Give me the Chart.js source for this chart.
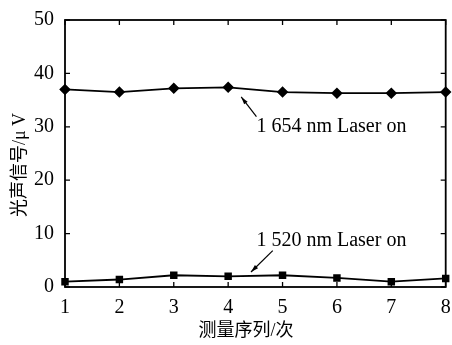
<!DOCTYPE html>
<html>
<head>
<meta charset="utf-8">
<script src="https://cdn.jsdelivr.net/npm/chart.js@4/dist/chart.umd.min.js"></script>
<style>
  html, body { margin: 0; padding: 0; background: #fff; }
  #wrap { width: 452px; height: 345px; }
</style>
</head>
<body>
<div id="wrap"><canvas id="chart" width="452" height="345"></canvas></div>
<script>
// measurement index
const runs = ["1", "2", "3", "4", "5", "6", "7", "8"];
// photoacoustic signal, uV
const laser1654 = [37.0, 36.5, 37.2, 37.4, 36.5, 36.3, 36.3, 36.5];
const laser1520 = [1.0, 1.4, 2.2, 2.0, 2.2, 1.7, 1.0, 1.6];
const yTicks = [0, 10, 20, 30, 40, 50];

const serif = "'Liberation Serif', 'Noto Sans CJK SC', serif";

// box + inward ticks + axis titles + arrow labels
const framePlugin = {
  id: "frame",
  afterDraw(chart) {
    const { ctx, chartArea: a, scales } = chart;
    const x = scales.x, y = scales.y;
    ctx.save();
    ctx.strokeStyle = "#000";
    ctx.lineWidth = 1.8;
    ctx.strokeRect(a.left, a.top, a.right - a.left, a.bottom - a.top);
    ctx.lineWidth = 1.3;
    ctx.beginPath();
    runs.forEach((r, i) => {
      const px = x.getPixelForValue(i);
      ctx.moveTo(px, a.bottom); ctx.lineTo(px, a.bottom - 5);
      ctx.moveTo(px, a.top); ctx.lineTo(px, a.top + 5);
    });
    yTicks.forEach(v => {
      const py = y.getPixelForValue(v);
      ctx.moveTo(a.left, py); ctx.lineTo(a.left + 5, py);
      ctx.moveTo(a.right, py); ctx.lineTo(a.right - 5, py);
    });
    ctx.stroke();

    ctx.fillStyle = "#000";
    ctx.textAlign = "center";
    ctx.textBaseline = "middle";
    ctx.font = "18px " + serif;
    // x axis title
    ctx.fillText("测量序列/次", 246, 331);
    // y axis title
    ctx.save();
    ctx.translate(20, 165);
    ctx.rotate(-Math.PI / 2);
    ctx.fillText("光声信号/μ V", 0, 0);
    ctx.restore();

    // annotations
    ctx.textAlign = "left";
    ctx.font = "20px " + serif;
    ctx.fillText("1 654 nm Laser on", x.getPixelForValue(3.52), y.getPixelForValue(30.0));
    ctx.fillText("1 520 nm Laser on", x.getPixelForValue(3.52), y.getPixelForValue(8.7));

    arrow(ctx, x.getPixelForValue(3.52), y.getPixelForValue(31.9), x.getPixelForValue(3.24), y.getPixelForValue(35.6));
    arrow(ctx, x.getPixelForValue(3.82), y.getPixelForValue(6.8), x.getPixelForValue(3.42), y.getPixelForValue(2.8));
    ctx.restore();
  }
};

function arrow(ctx, x1, y1, x2, y2) {
  const ang = Math.atan2(y2 - y1, x2 - x1);
  ctx.lineWidth = 1.2;
  ctx.beginPath();
  ctx.moveTo(x1, y1);
  ctx.lineTo(x2, y2);
  ctx.stroke();
  ctx.beginPath();
  ctx.moveTo(x2, y2);
  ctx.lineTo(x2 - 8 * Math.cos(ang - 0.28), y2 - 8 * Math.sin(ang - 0.28));
  ctx.lineTo(x2 - 8 * Math.cos(ang + 0.28), y2 - 8 * Math.sin(ang + 0.28));
  ctx.closePath();
  ctx.fill();
}

const ctx = document.getElementById("chart").getContext("2d");
new Chart(ctx, {
  type: "line",
  data: {
    labels: runs,
    datasets: [{
      label: "1 654 nm Laser on",
      data: laser1654,
      borderColor: "#000",
      backgroundColor: "#000",
      borderWidth: 1.8,
      pointStyle: "rectRot",
      pointRadius: 4.5,
      tension: 0
    }, {
      label: "1 520 nm Laser on",
      data: laser1520,
      borderColor: "#000",
      backgroundColor: "#000",
      borderWidth: 1.8,
      pointStyle: "rect",
      pointRadius: 4,
      tension: 0
    }]
  },
  options: {
    responsive: false,
    animation: false,
    layout: { padding: { top: 20, right: 5, left: 0, bottom: 0 } },
    scales: {
      x: {
        offset: false,
        grid: { display: false },
        border: { display: false },
        ticks: { color: "#000", font: { family: serif, size: 20 }, padding: 1, maxRotation: 0 },
        title: { display: false },
        afterFit: s => { s.height = 58; }
      },
      y: {
        min: 0, max: 50,
        afterBuildTicks: s => { s.ticks = yTicks.map(v => ({ value: v })); },
        grid: { display: false },
        border: { display: false },
        ticks: { color: "#000", font: { family: serif, size: 20 }, padding: 3 },
        title: { display: false },
        afterFit: s => { s.width = 65; }
      }
    },
    plugins: {
      legend: { display: false },
      tooltip: { enabled: false }
    }
  },
  plugins: [framePlugin]
});
</script>
</body>
</html>
